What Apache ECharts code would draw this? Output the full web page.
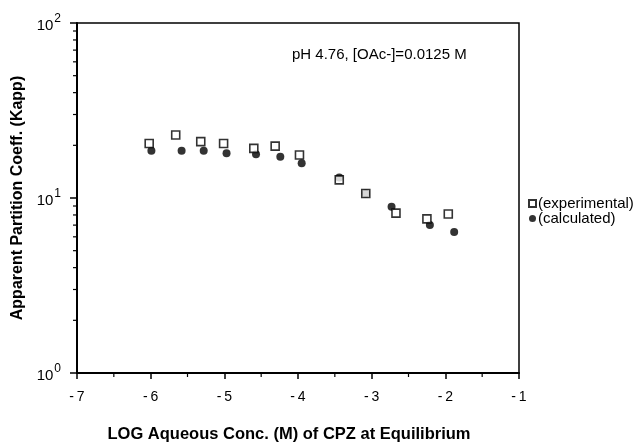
<!DOCTYPE html>
<html><head><meta charset="utf-8">
<script src="https://cdn.jsdelivr.net/npm/echarts@6/dist/echarts.min.js"></script>
<style>html,body{margin:0;padding:0;background:#fff}#c{width:639px;height:443px}</style>
</head><body><div id="c"></div>
<script>
const expX = [-6.02, -5.66, -5.32, -5.01, -4.60, -4.31, -3.98, -3.44, -3.08, -2.67, -2.25, -1.96];
const expY = [20.5, 22.9, 21.0, 20.5, 19.2, 19.8, 17.6, 12.7, 10.6, 8.2, 7.6, 8.1];
const calcX = [-5.99, -5.58, -5.28, -4.97, -4.57, -4.24, -3.95, -3.44, -3.08, -2.73, -2.21, -1.88];
const calcY = [18.6, 18.6, 18.6, 18.0, 17.8, 17.2, 15.8, 13.1, 10.6, 8.9, 7.0, 6.4];
const yMinorTicks = [2,3,4,5,6,7,8,9,20,30,40,50,60,70,80,90];
const xMinorTicks = [-6.5,-5.5,-4.5,-3.5,-2.5,-1.5];
const annotation = 'pH 4.76, [OAc-]=0.0125 M';
const xTitle = 'LOG Aqueous Conc. (M) of CPZ at Equilibrium';
const yTitle = 'Apparent Partition Coeff. (Kapp)';
const legendNames = ['(experimental)', '(calculated)'];

const font = 'Liberation Sans, Arial, Helvetica, sans-serif';
const chart = echarts.init(document.getElementById('c'));
chart.setOption({
  animation: false,
  backgroundColor: '#fff',
  textStyle: {fontFamily: font, color: '#000'},
  grid: {left: 77, top: 23, width: 442, height: 350, show: true, borderColor: '#000', borderWidth: 1.5,
         backgroundColor: 'transparent', containLabel: false, outerBoundsMode: 'none'},
  xAxis: {
    type: 'value', min: -7, max: -1, interval: 1,
    name: xTitle, nameLocation: 'middle', nameGap: 53,
    nameTextStyle: {fontFamily: font, fontWeight: 'bold', fontSize: 16.5, color: '#000', padding: [0, 18, 0, 0]},
    axisLine: {lineStyle: {color: '#000', width: 2}},
    axisTick: {inside: false, length: 6, lineStyle: {color: '#000', width: 1.5}},
    axisLabel: {margin: 17, fontSize: 14, color: '#000', fontFamily: font,
      formatter: v => (v < 0 ? '-\u2009' : '') + Math.abs(v)},
    splitLine: {show: false}
  },
  yAxis: {
    type: 'log', min: 1, max: 100, logBase: 10,
    name: yTitle, nameLocation: 'middle', nameGap: 42, nameRotate: 90,
    nameTextStyle: {fontFamily: font, fontWeight: 'bold', fontSize: 16, color: '#000'},
    axisLine: {lineStyle: {color: '#000', width: 2}},
    axisTick: {inside: false, length: 7, lineStyle: {color: '#000', width: 1.5}},
    axisLabel: {margin: 16, color: '#000', fontFamily: font,
      formatter: v => '{b|10}{s|' + Math.round(Math.log10(v)) + '}',
      rich: {b: {fontSize: 15, fontFamily: font, color: '#000', verticalAlign: 'bottom', lineHeight: 20, padding: [0, 1, 0, 0]},
             s: {fontSize: 12, fontFamily: font, color: '#000', verticalAlign: 'top', lineHeight: 11}}},
    splitLine: {show: false}
  },
  legend: {
    orient: 'vertical', left: 523, top: 191, itemWidth: 7, itemHeight: 7, itemGap: 0,
    textStyle: {fontSize: 15, fontFamily: font, color: '#000', padding: [0, 0, 0, -3]},
    data: legendNames
  },
  graphic: [{type: 'text', left: 292, top: 47, style: {text: annotation, font: '15px ' + font, fill: '#000'}}],
  series: [
    {
      name: legendNames[1], type: 'scatter', symbol: 'circle', symbolSize: 8,
      itemStyle: {color: '#000'},
      data: calcX.map((x, i) => [x, calcY[i]])
    },
    {
      name: legendNames[0], type: 'scatter', symbol: 'rect', symbolSize: 8,
      itemStyle: {color: '#fff', borderColor: '#000', borderWidth: 1.6},
      data: expX.map((x, i) => [x, expY[i]])
    },
    {
      type: 'custom', silent: true, clip: false,
      data: yMinorTicks.map(v => [-7, v]),
      renderItem: (params, api) => {
        const p = api.coord([api.value(0), api.value(1)]);
        return {type: 'line', shape: {x1: p[0] - 4, y1: p[1], x2: p[0], y2: p[1]}, style: {stroke: '#000', lineWidth: 1.2}};
      }
    },
    {
      type: 'custom', silent: true, clip: false,
      data: xMinorTicks.map(v => [v, 1]),
      renderItem: (params, api) => {
        const p = api.coord([api.value(0), api.value(1)]);
        return {type: 'line', shape: {x1: p[0], y1: p[1], x2: p[0], y2: p[1] + 4}, style: {stroke: '#000', lineWidth: 1.2}};
      }
    }
  ]
});
</script></body></html>
